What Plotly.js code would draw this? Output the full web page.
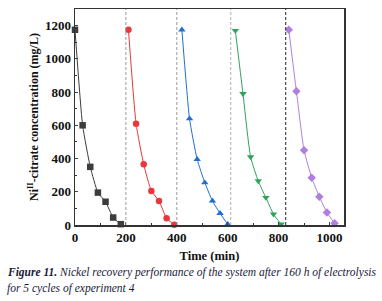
<!DOCTYPE html>
<html>
<head>
<meta charset="utf-8">
<script src="https://cdn.plot.ly/plotly-3.0.1.min.js"></script>
<style>html,body{margin:0;padding:0;background:#fff;}#chart{width:382px;height:301px;}</style>
</head>
<body>
<div id="chart"></div>
<script>
// Data
const time1 = [0, 30, 60, 90, 120, 150, 180];
const conc1 = [1175, 600, 350, 195, 140, 45, 5];
const time2 = [210, 240, 270, 300, 330, 360, 390];
const conc2 = [1175, 610, 365, 205, 145, 40, 2];
const time3 = [420, 450, 480, 510, 540, 570, 600];
const conc3 = [1175, 640, 395, 255, 145, 70, 5];
const time4 = [630, 660, 690, 720, 750, 780, 810];
const conc4 = [1170, 790, 410, 265, 165, 65, 5];
const time5 = [840, 870, 900, 930, 960, 990, 1020];
const conc5 = [1175, 805, 450, 285, 170, 75, 10];
const cycleBoundaries = [200, 400, 612, 828];
const boundaryColors = ['#9a9a9a', '#9a9a9a', '#b0b0b0', '#222222'];
const xTickVals = [0, 200, 400, 600, 800, 1000];
const yTickVals = [0, 200, 400, 600, 800, 1000, 1200];
const captionLines = [
  '<b><i>Figure 11.</i></b><i> Nickel recovery performance of the system after 160 h of electrolysis</i>',
  '<i>for 5 cycles of experiment 4</i>'
];

const series = [
  {x: time1, y: conc1, color: '#3d3d3d', symbol: 'square'},
  {x: time2, y: conc2, color: '#e8383d', symbol: 'circle'},
  {x: time3, y: conc3, color: '#1f6fd1', symbol: 'triangle-up'},
  {x: time4, y: conc4, color: '#2fa35a', symbol: 'triangle-down'},
  {x: time5, y: conc5, color: '#b07ee0', symbol: 'diamond'}
];

const traces = series.map(s => ({
  x: s.x, y: s.y, type: 'scatter', mode: 'lines+markers',
  line: {color: s.color, width: 1, shape: 'spline', smoothing: 0.5},
  marker: {color: s.color, symbol: s.symbol, size: 6.5},
  showlegend: false, cliponaxis: false
}));

const shapes = cycleBoundaries.map((b, i) => ({
  type: 'line', xref: 'x', yref: 'paper', x0: b, x1: b, y0: 0, y1: 1,
  line: {color: boundaryColors[i], width: 1, dash: '3px,2px'}
}));

const serif = '"Liberation Serif", "Times New Roman", serif';

const layout = {
  width: 382, height: 301,
  margin: {l: 75, r: 38, t: 9, b: 76},
  paper_bgcolor: '#fff', plot_bgcolor: '#fff',
  font: {family: serif, color: '#111'},
  xaxis: {
    range: [0, 1057], tickvals: xTickVals, ticks: 'inside', ticklen: 3,
    minor: {dtick: 100, ticks: 'inside', ticklen: 2, tickcolor: '#333'},
    showline: true, mirror: true, linecolor: '#333', linewidth: 1.5,
    showgrid: false, zeroline: false,
    tickfont: {family: serif, size: 13, color: '#111', weight: 'bold'},
    title: {text: '<b>Time (min)</b>', font: {family: serif, size: 12.5, color: '#111'}, standoff: 7}
  },
  yaxis: {
    range: [0, 1300], tickvals: yTickVals, ticks: 'inside', ticklen: 3,
    minor: {dtick: 100, ticks: 'inside', ticklen: 2, tickcolor: '#333'},
    showline: true, mirror: true, linecolor: '#333', linewidth: 1.5,
    showgrid: false, zeroline: false,
    tickfont: {family: serif, size: 13, color: '#111', weight: 'bold'},
    title: {text: '<b>Ni<sup>II</sup>-citrate concentration (mg/L)</b>', font: {family: serif, size: 12, color: '#111'}, standoff: 3}
  },
  shapes: shapes,
  annotations: captionLines.map((t, i) => ({
    xref: 'paper', yref: 'paper', x: -0.262, y: [-0.222, -0.292][i],
    xanchor: 'left', yanchor: 'middle', showarrow: false, align: 'left',
    text: t, font: {family: serif, size: 11.5, color: '#1a1a3a'}
  }))
};

Plotly.newPlot('chart', traces, layout, {staticPlot: true, displayModeBar: false});
</script>
</body>
</html>
